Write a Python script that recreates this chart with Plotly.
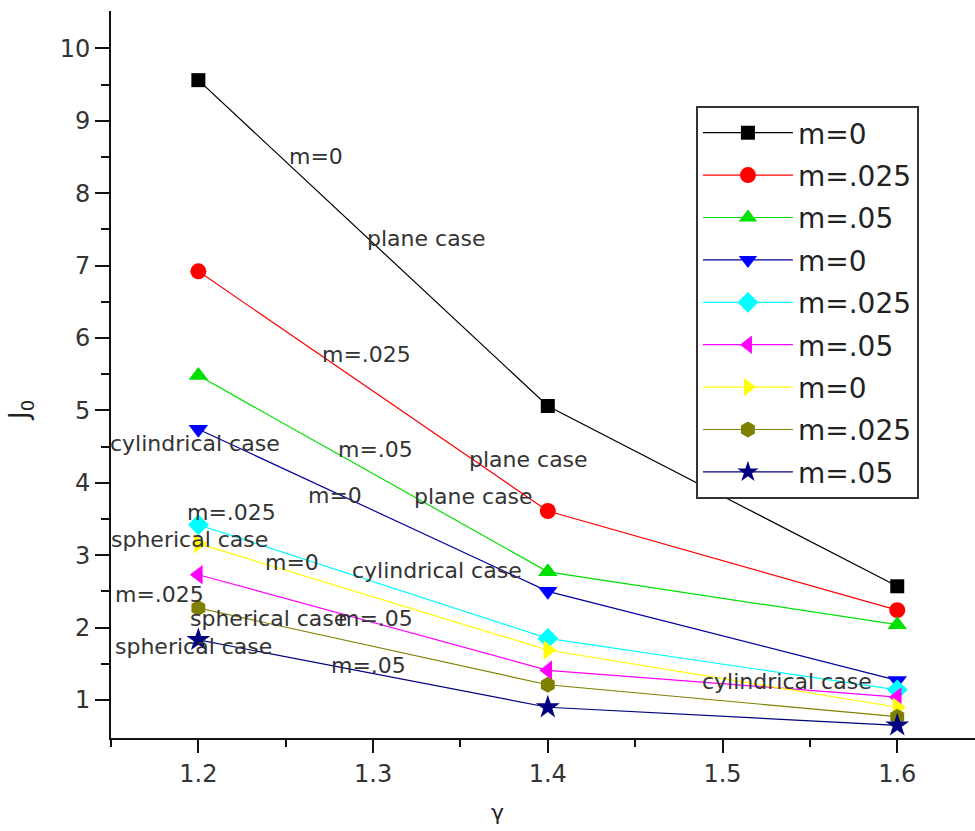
import plotly.graph_objects as go

gamma = [1.2, 1.4, 1.6]

series_names = ["m=0", "m=.025", "m=.05", "m=0", "m=.025", "m=.05", "m=0", "m=.025", "m=.05"]
plane_m0 = [9.56, 5.06, 2.57]
plane_m025 = [6.92, 3.61, 2.24]
plane_m05 = [5.48, 2.77, 2.04]
cyl_m0 = [4.74, 2.50, 1.27]
cyl_m025 = [3.42, 1.85, 1.14]
cyl_m05 = [2.73, 1.41, 1.04]
sph_m0 = [3.16, 1.69, 0.90]
sph_m025 = [2.27, 1.21, 0.77]
sph_m05 = [1.83, 0.90, 0.65]

series_values = [plane_m0, plane_m025, plane_m05, cyl_m0, cyl_m025, cyl_m05, sph_m0, sph_m025, sph_m05]
colors = ["#000000", "#FF0000", "#00E000", "#0000FF", "#00FFFF", "#FF00FF", "#FFFF00", "#808000", "#000080"]
line_colors = ["#000000", "#FF0000", "#00E000", "#0000A0", "#00FFFF", "#FF00FF", "#FFFF00", "#808000", "#000080"]
symbols = ["square", "circle", "triangle-up", "triangle-down", "diamond", "triangle-left",
           "triangle-right", "hexagon", "star"]
sizes = [14, 16, 17, 17, 16, 17, 17, 16, 18]

# text labels placed on the chart (text, gamma, J0)
labels = [
    ("m=0", 1.2673, 8.50),
    ("plane case", 1.3308, 7.38),
    ("m=.025", 1.2965, 5.765),
    ("m=.05", 1.3011, 4.466),
    ("plane case", 1.3892, 4.328),
    ("plane case", 1.3577, 3.817),
    ("cylindrical case", 1.1981, 4.549),
    ("m=0", 1.2782, 3.83),
    ("m=.025", 1.2187, 3.596),
    ("spherical case", 1.1952, 3.21),
    ("m=0", 1.2536, 2.892),
    ("cylindrical case", 1.3366, 2.795),
    ("m=.025", 1.178, 2.45),
    ("spherical case", 1.2404, 2.132),
    ("m=.05", 1.3016, 2.132),
    ("spherical case", 1.1975, 1.732),
    ("m=.05", 1.2976, 1.483),
    ("cylindrical case", 1.5368, 1.249),
]

FONT = "DejaVu Sans"

fig = go.Figure()
for i, (name, vals) in enumerate(zip(series_names, series_values)):
    fig.add_trace(go.Scatter(
        x=gamma, y=vals, mode="lines+markers", name=name,
        legendgroup="g%d" % i,
        line=dict(color=line_colors[i], width=1.2),
        marker=dict(symbol=symbols[i], size=sizes[i], color=colors[i], line=dict(width=0)),
    ))

annotations = [
    dict(text=t, x=x, y=y, xref="x", yref="y", showarrow=False,
         xanchor="center", yanchor="middle",
         font=dict(family=FONT, size=22, color="#333333"))
    for t, x, y in labels
]
annotations.append(dict(text="J<sub>0</sub>", x=-0.104, y=0.45, xref="paper", yref="paper",
                        xanchor="center", yanchor="middle",
                        showarrow=False, textangle=-90,
                        font=dict(family=FONT, size=26, color="#222222")))
annotations.append(dict(text="γ", x=0.4468, y=-0.103, xref="paper", yref="paper",
                        xanchor="center", yanchor="middle",
                        showarrow=False, font=dict(family=FONT, size=22, color="#222222")))

fig.update_layout(
    width=975, height=831,
    margin=dict(l=111, r=0, t=11, b=93),
    paper_bgcolor="white", plot_bgcolor="white",
    font=dict(family=FONT, color="#222222"),
    annotations=annotations,
    legend=dict(
        x=0.677, y=0.8693, xanchor="left", yanchor="top",
        bgcolor="white", bordercolor="#333333", borderwidth=2,
        font=dict(family=FONT, size=28, color="#222222"),
        tracegroupgap=3, itemwidth=90, traceorder="grouped",
    ),
    xaxis=dict(
        range=[1.15, 1.6445], showgrid=False, zeroline=False,
        showline=True, linecolor="#111111", linewidth=2,
        ticks="outside", ticklen=13, tickwidth=2, tickcolor="#111111",
        tickmode="array", tickvals=[1.2, 1.3, 1.4, 1.5, 1.6], ticktext=["1.2", "1.3", "1.4", "1.5", "1.6"],
        tickfont=dict(family=FONT, size=24, color="#333333"),
        minor=dict(ticks="outside", ticklen=7, tickwidth=2, tickcolor="#111111",
                   tickmode="array", tickvals=[1.15, 1.25, 1.35, 1.45, 1.55]),
    ),
    yaxis=dict(
        range=[0.475, 10.515], showgrid=False, zeroline=False,
        showline=True, linecolor="#111111", linewidth=2,
        ticks="outside", ticklen=14, tickwidth=2, tickcolor="#111111",
        tickmode="array", tickvals=list(range(1, 11)), ticktext=[str(v) for v in range(1, 11)],
        tickfont=dict(family=FONT, size=24, color="#333333"),
        minor=dict(ticks="outside", ticklen=8, tickwidth=2, tickcolor="#111111",
                   tickmode="array", tickvals=[1.5, 2.5, 3.5, 4.5, 5.5, 6.5, 7.5, 8.5, 9.5]),
    ),
)

fig.write_html("out.html")
